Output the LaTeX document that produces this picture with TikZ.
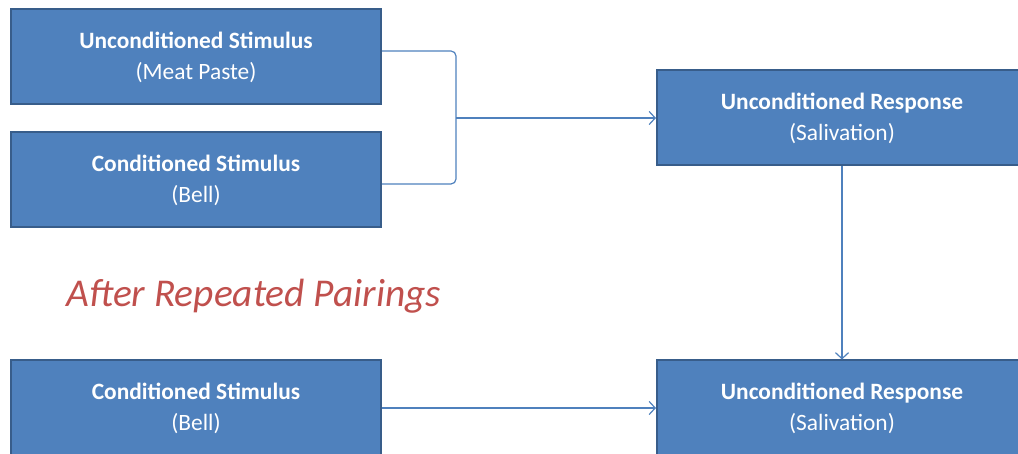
\documentclass[tikz,border=0pt]{standalone}
\usepackage{fontspec}
\setmainfont{Carlito}
\usetikzlibrary{positioning}
\usetikzlibrary{arrows.meta}
\definecolor{boxblue}{RGB}{79,129,189}
\definecolor{edgeblue}{RGB}{56,93,138}
\definecolor{pairred}{RGB}{192,80,77}

\begin{document}
\begin{tikzpicture}[x=1pt, y=-1pt, >={Straight Barb[length=6pt, width=13pt]},
	box/.style={draw=edgeblue, line width=2pt, fill=boxblue, rectangle, minimum width=370pt, minimum height=95pt, text=white, font=\fontsize{23.4}{31}\selectfont\bfseries, align=center},
	link/.style={->, draw=boxblue, line width=1.2pt}]
		\useasboundingbox (0,0) rectangle (1018,454);
		\clip (0,0) rectangle (1018,454);

		\node[box] (US) at (196,57) {Unconditioned Stimulus\\\mdseries(Meat Paste)};
		\node[box] (CS) at (196,180) {Conditioned Stimulus\\\mdseries(Bell)};
		\node[box] (UR) at (842,118) {Unconditioned Response\\\mdseries(Salivation)};

		\node[text=pairred, font=\fontsize{39.4}{44}\selectfont\itshape, anchor=base west] (AP) at (63,307) {After Repeated Pairings};

		\node[box] (CSb) at (196,408) {Conditioned Stimulus\\\mdseries(Bell)};
		\node[box] (URb) at (842,408) {Unconditioned Response\\\mdseries(Salivation)};

		\coordinate (J) at (456,118);
		\draw[draw=boxblue, line width=1.2pt, rounded corners=5pt] ([yshift=6pt]US.east) -- (J |- 0,51) -- (J |- 0,184) -- ([yshift=-4pt]CS.east);
		\draw[link] (J) -- (UR);
		\draw[link] (UR) -- (URb);
		\draw[link] (CSb) -- (URb);
		\end{tikzpicture}
\end{document}
